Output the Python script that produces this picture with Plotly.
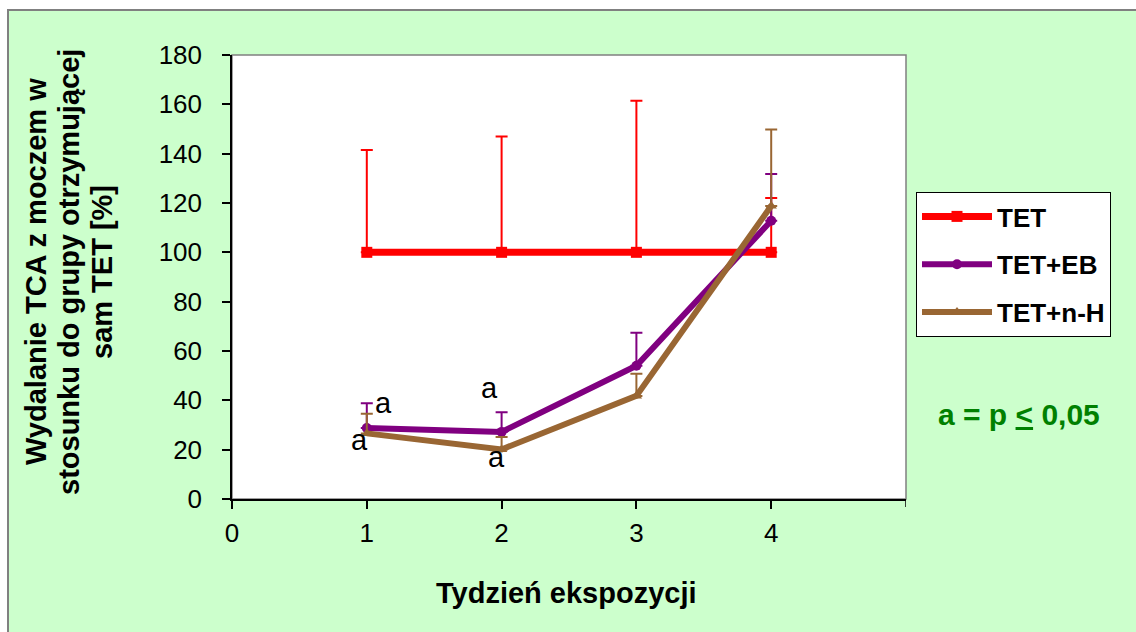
import plotly.graph_objects as go

# Weeks of exposure
weeks = [1, 2, 3, 4]

# Urinary TCA excretion relative to the TET-only group [%]
tet = [100, 100, 100, 100]
tet_err = [41.5, 47, 61.5, 22]

tet_eb = [28.8, 27.2, 54, 112.8]
tet_eb_err = [10, 8, 13.4, 19]

tet_nh = [26.6, 20.1, 41.8, 118.8]
tet_nh_err = [8, 5, 9, 31]

# Significance marks ("a") beside points
sig_x = [1.126, 0.948, 1.913, 1.965]
sig_y = [38.9, 23.9, 45, 17]

x_ticks = [0, 1, 2, 3, 4]
y_ticks = [0, 20, 40, 60, 80, 100, 120, 140, 160, 180]

y_title_lines = ["Wydalanie TCA z moczem w", "stosunku do grupy otrzymującej", "sam TET [%]"]

FONT = "Liberation Sans, Arial, sans-serif"
W, H = 1136, 632
L, R, T, B = 232, 906, 55, 499


def px_to_paper_x(px):
    return (px - L) / (R - L)


def px_to_paper_y(py):
    return (B - py) / (B - T)


def series(name, y, err, color, symbol, msize, lw):
    return go.Scatter(
        x=weeks, y=y, name=name, mode="lines+markers",
        line=dict(color=color, width=lw),
        marker=dict(color=color, symbol=symbol, size=msize),
        error_y=dict(type="data", array=err, arrayminus=[0] * len(err),
                     symmetric=False, color=color, thickness=2, width=6),
        legendgroup=name,
    )


fig = go.Figure()
fig.add_trace(series("TET", tet, tet_err, "#FF0000", "square", 11, 7))
fig.add_trace(series("TET+EB", tet_eb, tet_eb_err, "#800080", "circle", 10, 6))
fig.add_trace(series("TET+n-H", tet_nh, tet_nh_err, "#996633", "triangle-up", 10, 6))

for sx, sy in zip(sig_x, sig_y):
    fig.add_annotation(x=sx, y=sy, xref="x", yref="y", text="a", showarrow=False,
                       xanchor="center", yanchor="middle",
                       font=dict(family=FONT, size=29, color="black"))

# Outer chart frame (light green)
fig.add_shape(type="rect", xref="paper", yref="paper",
              x0=px_to_paper_x(8), x1=px_to_paper_x(W + 10),
              y0=px_to_paper_y(H + 10), y1=px_to_paper_y(10),
              fillcolor="#CCFFCC", line=dict(color="#808080", width=2), layer="below")
# Plot area
fig.add_shape(type="rect", xref="paper", yref="paper", x0=0, x1=1, y0=0, y1=1,
              fillcolor="white", line=dict(color="#808080", width=1.5), layer="below")

# Y axis title, one annotation per line
for i, line in enumerate(y_title_lines):
    fig.add_annotation(xref="paper", yref="paper", x=px_to_paper_x(36 + 33 * i),
                       y=px_to_paper_y(272), text=line, textangle=-90, showarrow=False,
                       xanchor="center", yanchor="middle",
                       font=dict(family=FONT, size=29, color="black", weight="bold"))

fig.add_annotation(xref="paper", yref="paper", x=px_to_paper_x(566), y=px_to_paper_y(593),
                   text="Tydzień ekspozycji", showarrow=False,
                   xanchor="center", yanchor="middle",
                   font=dict(family=FONT, size=29, color="black", weight="bold"))

# Significance note
fig.add_annotation(xref="paper", yref="paper", x=px_to_paper_x(1019), y=px_to_paper_y(414),
                   text="a = p <u>&lt;</u> 0,05", showarrow=False,
                   xanchor="center", yanchor="middle",
                   font=dict(family=FONT, size=30, color="#008000", weight="bold"))

fig.update_layout(
    width=W, height=H,
    margin=dict(l=L, r=W - R, t=T, b=H - B, pad=0),
    paper_bgcolor="white", plot_bgcolor="rgba(0,0,0,0)",
    font=dict(family=FONT, size=26, color="black"),
    showlegend=True,
    legend=dict(
        x=px_to_paper_x(916), y=px_to_paper_y(192), xanchor="left", yanchor="top",
        bgcolor="white", bordercolor="black", borderwidth=1,
        font=dict(family=FONT, size=26, color="black", weight="bold"),
        tracegroupgap=11, traceorder="grouped",
        itemwidth=70, entrywidth=200, entrywidthmode="pixels",
    ),
    xaxis=dict(range=[0, 5], tickvals=x_ticks, ticktext=[str(v) for v in x_ticks],
               showgrid=False, zeroline=False, showline=True, linecolor="black", linewidth=1.5,
               ticks="outside", ticklen=8, tickcolor="black", tickwidth=1.5,
               tickfont=dict(family=FONT, size=26), ticklabelstandoff=2),
    yaxis=dict(range=[0, 180], tickvals=y_ticks,
               showgrid=False, zeroline=False, showline=True, linecolor="black", linewidth=1.5,
               ticks="outside", ticklen=8, tickcolor="black", tickwidth=1.5,
               tickfont=dict(family=FONT, size=26), ticklabelstandoff=15),
)

# Unlabelled closing tick at x = 5
fig.add_shape(type="line", xref="x", yref="paper", x0=5, x1=5, y0=0, y1=px_to_paper_y(B + 8),
              line=dict(color="black", width=1.5))

fig.write_html("out.html")
